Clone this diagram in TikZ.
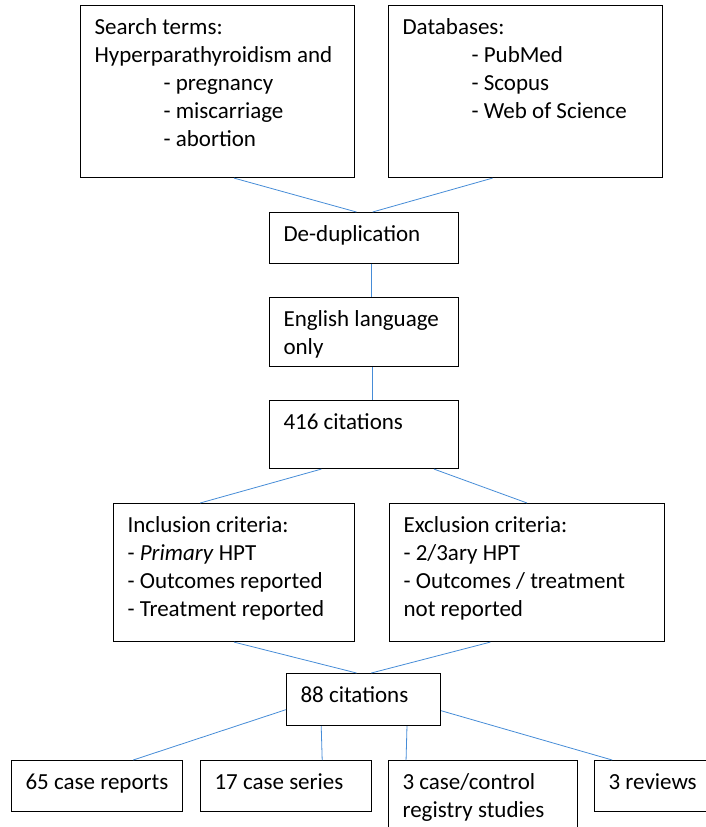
\documentclass[tikz,border=0pt]{standalone}
\usepackage{fontspec}
\setmainfont{Carlito}
\usetikzlibrary{calc}
\definecolor{linkblue}{RGB}{70,140,215}
% box text: outer width, outer height, lines
\newcommand{\boxtext}[3]{\parbox[c][#2][t]{\dimexpr#1-28pt\relax}{\rule{0pt}{28.5pt}#3}}
\begin{document}
\begin{tikzpicture}[x=1pt,y=-1pt,
  box/.style={draw,line width=1.1pt,anchor=north west,inner xsep=14pt,inner ysep=0pt,
    font=\fontsize{23}{28}\selectfont},
  link/.style={draw=linkblue,line width=0.8pt}]
\useasboundingbox (0,0) rectangle (705,827);
\node[box] (search) at (80,5) {\boxtext{274pt}{172pt}{Search terms:\\Hyperparathyroidism and\\
  \hspace*{69pt}- pregnancy\\\hspace*{69pt}- miscarriage\\\hspace*{69pt}- abortion}};
\node[box] (db) at (388,5) {\boxtext{274pt}{172pt}{Databases:\\\hspace*{69pt}- PubMed\\
  \hspace*{69pt}- Scopus\\\hspace*{69pt}- Web of Science}};
\node[box] (dedup) at (269,212) {\boxtext{189pt}{51pt}{De-duplication}};
\node[box] (english) at (269,297) {\boxtext{189pt}{69pt}{English language\\only}};
\node[box] (cit416) at (269,400) {\boxtext{189pt}{68pt}{416 citations}};
\node[box] (incl) at (113,503) {\boxtext{241pt}{138pt}{Inclusion criteria:\\- \textit{Primary} HPT\\
  - Outcomes reported\\- Treatment reported}};
\node[box] (excl) at (389,503) {\boxtext{275pt}{138pt}{Exclusion criteria:\\- 2/3ary HPT\\
  - Outcomes / treatment\\not reported}};
\node[box] (cit88) at (286,673) {\boxtext{154pt}{52pt}{88 citations}};
\node[box] (reports) at (11,760) {\boxtext{171pt}{51pt}{65 case reports}};
\node[box] (series) at (200,760) {\boxtext{171pt}{51pt}{17 case series}};
\node[box] (registry) at (388,760) {\boxtext{189pt}{80pt}{3 case/control\\registry studies}};
\node[box] (reviews) at (594,760) {\boxtext{126pt}{51pt}{3 reviews}};
% connectors
\draw[link] ($(search.south west)!0.56!(search.south east)$) -- ($(dedup.north west)!0.46!(dedup.north east)$);
\draw[link] ($(db.south west)!0.38!(db.south east)$) -- ($(dedup.north west)!0.545!(dedup.north east)$);
\draw[link] ($(dedup.south west)!0.54!(dedup.south east)$) -- ($(english.north west)!0.54!(english.north east)$);
\draw[link] ($(english.south west)!0.545!(english.south east)$) -- ($(cit416.north west)!0.545!(cit416.north east)$);
\draw[link] ($(cit416.south west)!0.275!(cit416.south east)$) -- ($(incl.north west)!0.36!(incl.north east)$);
\draw[link] ($(cit416.south west)!0.868!(cit416.south east)$) -- ($(excl.north west)!0.5!(excl.north east)$);
\draw[link] ($(incl.south west)!0.5!(incl.south east)$) -- ($(cit88.north west)!0.455!(cit88.north east)$);
\draw[link] ($(excl.south west)!0.367!(excl.south east)$) -- ($(cit88.north west)!0.55!(cit88.north east)$);
\draw[link] ($(cit88.north west)!0.69!(cit88.south west)$) -- ($(reports.north west)!0.71!(reports.north east)$);
\draw[link] ($(cit88.south west)!0.227!(cit88.south east)$) -- ($(series.north west)!0.71!(series.north east)$);
\draw[link] ($(cit88.south west)!0.78!(cit88.south east)$) -- ($(registry.north west)!0.095!(registry.north east)$);
\draw[link] ($(cit88.north east)!0.71!(cit88.south east)$) -- ($(reviews.north west)!0.143!(reviews.north east)$);
\end{tikzpicture}
\end{document}
